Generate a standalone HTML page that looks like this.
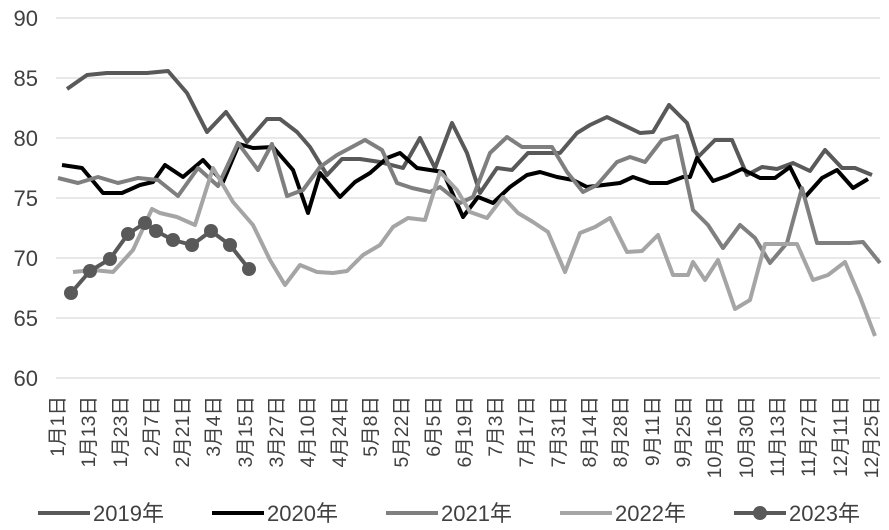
<!DOCTYPE html>
<html><head><meta charset="utf-8"><style>
body{margin:0;background:#fff;}
svg{display:block;font-family:"Liberation Sans","Noto Sans CJK SC",sans-serif;}
</style></head><body>
<svg width="889" height="530" viewBox="0 0 889 530">
<g stroke="#d0d0d0" stroke-width="1">
<line x1="56" y1="18" x2="880" y2="18"/><line x1="56" y1="78" x2="880" y2="78"/><line x1="56" y1="138" x2="880" y2="138"/><line x1="56" y1="198" x2="880" y2="198"/><line x1="56" y1="258" x2="880" y2="258"/><line x1="56" y1="318" x2="880" y2="318"/><line x1="56" y1="378" x2="880" y2="378"/>
</g>
<g font-size="22" fill="#404040" text-anchor="end">
<text x="38" y="26">90</text><text x="38" y="86">85</text><text x="38" y="146">80</text><text x="38" y="206">75</text><text x="38" y="266">70</text><text x="38" y="326">65</text><text x="38" y="386">60</text>
</g>
<g fill="none" stroke-linejoin="round" stroke-width="4">
<polyline stroke="#595959" points="67,89 87,75 107,73 147,73 168,71 187,93 207,132 226,112 247,142 267,119 280,119 297,132 310,147 327,175 342,159 360,159 380,162 403,168 420,138 435,168 452,123 467,153 480,193 497,168 512,170 528,153 560,153 577,133 590,125 607,117 640,133 653,132 669,105 687,123 698,157 715,140 732,140 747,175 762,167 777,169 793,163 810,171 825,150 842,168 855,168 872,175"/>
<polyline stroke="#000" points="62,165 82,168 103,193 122,193 140,185 153,182 165,165 183,177 203,160 223,182 239,144 253,148 273,147 293,170 308,213 320,173 340,197 355,182 370,173 387,158 400,153 417,168 443,172 463,217 478,197 493,203 510,187 527,175 540,172 557,177 573,180 587,187 620,183 633,177 650,183 667,183 683,177 690,177 697,158 713,181 727,176 742,169 760,178 775,178 790,167 805,197 822,178 837,170 853,188 868,179"/>
<polyline stroke="#7f7f7f" points="58,178 78,183 98,177 118,183 138,178 158,180 178,196 198,168 218,186 238,143 258,170 272,144 287,196 303,190 320,167 337,155 365,140 382,150 397,183 412,188 430,192 440,187 460,203 473,197 490,153 507,137 522,147 552,147 567,172 583,192 597,185 617,162 630,157 645,162 662,140 677,136 693,210 708,225 723,248 740,225 755,238 770,263 787,243 802,188 817,243 850,243 863,242 880,263"/>
<polyline stroke="#a5a5a5" points="73,272 93,270 113,272 133,250 152,209 160,213 177,217 195,225 213,168 233,202 253,225 270,260 285,285 300,265 317,272 333,273 347,271 363,255 380,245 393,227 408,218 425,220 440,172 457,190 470,212 487,218 503,197 518,213 533,222 548,232 565,272 580,233 595,227 610,218 627,252 642,251 658,235 673,275 688,275 693,262 705,280 718,260 735,309 750,300 765,244 797,244 813,280 828,275 845,262 860,297 875,336"/>
<polyline stroke="#595959" points="71,293 90,271 110,259 128,234 145,223 156,231 173,240 192,245 211,231 230,245 249,269"/>
</g>
<g fill="#595959">
<circle cx="71" cy="293" r="7"/><circle cx="90" cy="271" r="7"/><circle cx="110" cy="259" r="7"/><circle cx="128" cy="234" r="7"/><circle cx="145" cy="223" r="7"/><circle cx="156" cy="231" r="7"/><circle cx="173" cy="240" r="7"/><circle cx="192" cy="245" r="7"/><circle cx="211" cy="231" r="7"/><circle cx="230" cy="245" r="7"/><circle cx="249" cy="269" r="7"/>
</g>
<g font-size="19.5" fill="#404040" text-anchor="end">
<text transform="translate(64,396) rotate(-90)">1月1日</text>
<text transform="translate(95,396) rotate(-90)">1月13日</text>
<text transform="translate(127,396) rotate(-90)">1月23日</text>
<text transform="translate(158,396) rotate(-90)">2月7日</text>
<text transform="translate(189,396) rotate(-90)">2月21日</text>
<text transform="translate(220,396) rotate(-90)">3月4日</text>
<text transform="translate(252,396) rotate(-90)">3月15日</text>
<text transform="translate(283,396) rotate(-90)">3月27日</text>
<text transform="translate(314,396) rotate(-90)">4月10日</text>
<text transform="translate(346,396) rotate(-90)">4月24日</text>
<text transform="translate(377,396) rotate(-90)">5月8日</text>
<text transform="translate(408,396) rotate(-90)">5月22日</text>
<text transform="translate(440,396) rotate(-90)">6月5日</text>
<text transform="translate(471,396) rotate(-90)">6月19日</text>
<text transform="translate(502,396) rotate(-90)">7月3日</text>
<text transform="translate(533,396) rotate(-90)">7月17日</text>
<text transform="translate(565,396) rotate(-90)">7月31日</text>
<text transform="translate(596,396) rotate(-90)">8月14日</text>
<text transform="translate(627,396) rotate(-90)">8月28日</text>
<text transform="translate(659,396) rotate(-90)">9月11日</text>
<text transform="translate(690,396) rotate(-90)">9月25日</text>
<text transform="translate(721,396) rotate(-90)">10月16日</text>
<text transform="translate(753,396) rotate(-90)">10月30日</text>
<text transform="translate(784,396) rotate(-90)">11月13日</text>
<text transform="translate(815,396) rotate(-90)">11月27日</text>
<text transform="translate(847,396) rotate(-90)">12月11日</text>
<text transform="translate(878,396) rotate(-90)">12月25日</text>
</g>
<g stroke-width="4">
<line x1="38" y1="513" x2="90" y2="513" stroke="#595959"/>
<line x1="212" y1="513" x2="264" y2="513" stroke="#000"/>
<line x1="386" y1="513" x2="438" y2="513" stroke="#7f7f7f"/>
<line x1="560" y1="513" x2="612" y2="513" stroke="#a5a5a5"/>
<line x1="734" y1="513" x2="786" y2="513" stroke="#595959"/>
</g>
<circle cx="760" cy="513" r="7" fill="#595959"/>
<g font-size="22" fill="#404040">
<text x="93" y="521">2019年</text><text x="267" y="521">2020年</text><text x="441" y="521">2021年</text><text x="615" y="521">2022年</text><text x="789" y="521">2023年</text>
</g>
</svg>
</body></html>
